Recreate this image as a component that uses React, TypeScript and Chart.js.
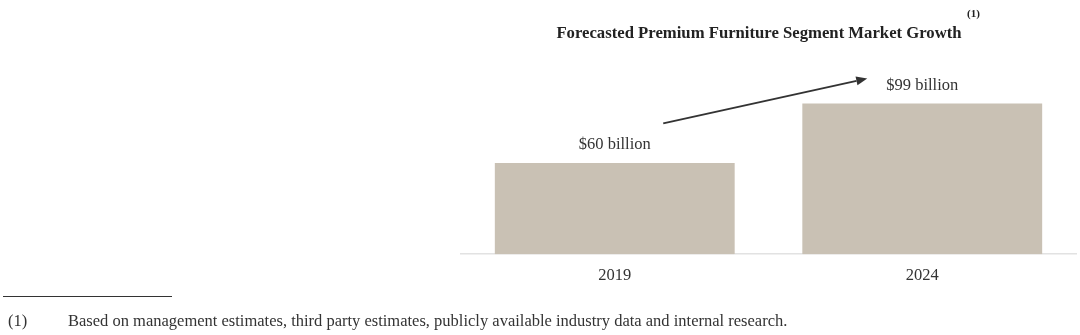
import React, { useEffect, useRef } from "react";
import { Chart, registerables } from "chart.js";

Chart.register(...registerables);

// ---- Data ----
const categories: string[] = ["2019", "2024"];
const marketValues: number[] = [60, 99];
const valueLabels: string[] = ["$60 billion", "$99 billion"];
const chartTitle = "Forecasted Premium Furniture Segment Market Growth";
const titleNote = "(1)";
const footnoteMark = "(1)";
const footnoteText =
  "Based on management estimates, third party estimates, publicly available industry data and internal research.";

const SERIF = '"Liberation Serif", "Times New Roman", Times, serif';
const BAR_COLOR = "#c9c1b4";
const TEXT_COLOR = "#333333";

const annotatePlugin = {
  id: "annotate",
  afterDraw(chart: any) {
    const { ctx, scales } = chart;
    const meta = chart.getDatasetMeta(0);
    ctx.save();

    // Title
    ctx.fillStyle = "#222222";
    ctx.textBaseline = "middle";
    ctx.textAlign = "center";
    ctx.font = `bold 16.7px ${SERIF}`;
    ctx.fillText(chartTitle, 759, 34);
    ctx.textAlign = "left";
    ctx.font = `bold 11px ${SERIF}`;
    ctx.fillText(titleNote, 967, 14);

    // Value labels
    ctx.fillStyle = TEXT_COLOR;
    ctx.textAlign = "center";
    ctx.font = `16.5px ${SERIF}`;
    meta.data.forEach((bar: any, i: number) => {
      ctx.fillText(valueLabels[i], bar.x, bar.y - 18);
    });

    // Growth arrow
    const b0 = meta.data[0];
    const b1 = meta.data[1];
    const x0 = scales.x.getPixelForValue(0) + 48.5;
    const y0 = b0.y - 39.5;
    const x1 = scales.x.getPixelForValue(1) - 55;
    const y1 = b1.y - 25;
    const ang = Math.atan2(y1 - y0, x1 - x0);
    const headLen = 11;
    const headW = 4.5;
    const bx = x1 - headLen * Math.cos(ang);
    const by = y1 - headLen * Math.sin(ang);
    ctx.strokeStyle = "#333333";
    ctx.fillStyle = "#333333";
    ctx.lineWidth = 2;
    ctx.beginPath();
    ctx.moveTo(x0, y0);
    ctx.lineTo(bx, by);
    ctx.stroke();
    ctx.beginPath();
    ctx.moveTo(x1, y1);
    ctx.lineTo(bx + headW * Math.sin(ang), by - headW * Math.cos(ang));
    ctx.lineTo(bx - headW * Math.sin(ang), by + headW * Math.cos(ang));
    ctx.closePath();
    ctx.fill();

    // Footnote
    ctx.strokeStyle = "#333333";
    ctx.lineWidth = 1;
    ctx.beginPath();
    ctx.moveTo(3, 296.5);
    ctx.lineTo(172, 296.5);
    ctx.stroke();
    ctx.fillStyle = TEXT_COLOR;
    ctx.textAlign = "left";
    ctx.font = `16.5px ${SERIF}`;
    ctx.fillText(footnoteMark, 8, 322);
    ctx.fillText(footnoteText, 68, 322);

    ctx.restore();
  },
};

export default function App() {
  const canvasRef = useRef<HTMLCanvasElement | null>(null);

  useEffect(() => {
    if (!canvasRef.current) return;
    const chart = new Chart(canvasRef.current, {
      type: "bar",
      data: {
        labels: categories,
        datasets: [
          {
            data: marketValues,
            backgroundColor: BAR_COLOR,
            borderWidth: 0,
            barPercentage: 0.78,
            categoryPercentage: 1,
          },
        ],
      },
      options: {
        responsive: false,
        animation: false,
        layout: {
          padding: { left: 461, right: 4, top: 102, bottom: 45 },
        },
        plugins: {
          legend: { display: false },
          title: { display: false },
          tooltip: { enabled: false },
        },
        scales: {
          x: {
            grid: { display: false },
            border: { display: true, color: "#e2e2e2", width: 1.5 },
            ticks: {
              color: TEXT_COLOR,
              padding: 4,
              font: { family: SERIF, size: 16.5 },
            },
          },
          y: {
            display: false,
            min: 0,
            max: 100,
          },
        },
      },
      plugins: [annotatePlugin],
    });
    return () => chart.destroy();
  }, []);

  return (
    <div style={{ position: "absolute", left: 0, top: 0, width: 1080, height: 335, background: "#fff" }}>
      <canvas ref={canvasRef} width={1080} height={335} style={{ display: "block" }} />
    </div>
  );
}
